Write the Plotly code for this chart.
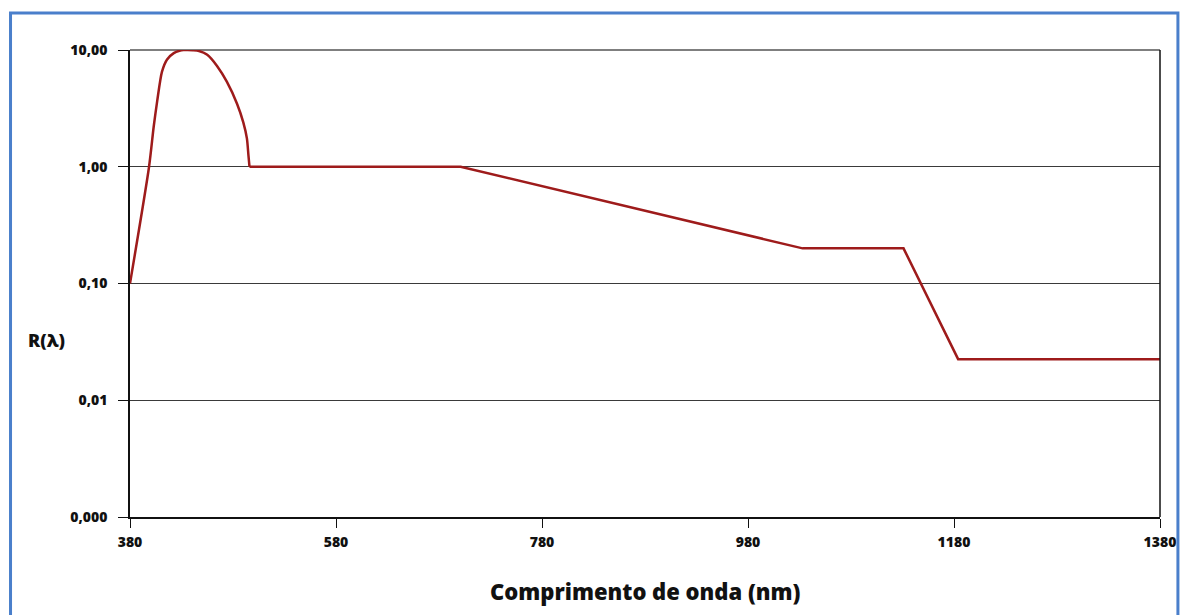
import plotly.graph_objects as go

# Retinal hazard weighting function R(λ), log scale
wavelength_nm = [380, 398.5, 403, 406.5, 411, 416, 422.5, 428, 432, 436,
                 441, 447, 455, 464.5, 474, 484, 490, 493.5, 495, 496,
                 701, 1033, 1131, 1184, 1380]
r_lambda = [0.1, 1.0, 2.2, 3.7, 6.5, 8.3, 9.4, 9.85, 10.0, 10.0,
            9.95, 9.8, 9.1, 7.3, 5.35, 3.45, 2.4, 1.75, 1.25, 1.0,
            1.0, 0.2, 0.2, 0.0225, 0.0225]

x_ticks = [380, 580, 780, 980, 1180, 1380]
y_ticks = [0.001, 0.01, 0.1, 1, 10]
y_tick_text = ["0,000", "0,01", "0,10", "1,00", "10,00"]

FONT = "Open Sans"
BLUE = "#4a7fcb"
RED = "#9e1b1b"
TEXT = "#111111"

# the blue-light peak is drawn smoothed, the straight segments after it linearly
split = wavelength_nm.index(496)

fig = go.Figure()
fig.add_trace(go.Scatter(
    x=wavelength_nm[:split + 1], y=r_lambda[:split + 1], mode="lines",
    line=dict(color=RED, width=2.5, shape="spline", smoothing=0.7),
    showlegend=False,
))
fig.add_trace(go.Scatter(
    x=wavelength_nm[split:], y=r_lambda[split:], mode="lines",
    line=dict(color=RED, width=2.5),
    showlegend=False,
))

tick_font = dict(family=FONT, size=14, color=TEXT, weight=800)

fig.update_layout(
    width=1188, height=615,
    margin=dict(l=130, r=24, t=50, b=98),
    paper_bgcolor="white", plot_bgcolor="white",
    font=dict(family=FONT, color=TEXT),
    xaxis=dict(
        range=[380, 1380], tickvals=x_ticks,
        ticktext=[str(v) for v in x_ticks],
        showgrid=False, zeroline=False,
        showline=True, linecolor=TEXT, linewidth=1.5,
        ticks="outside", ticklen=9, tickwidth=1.2, tickcolor=TEXT,
        tickfont=tick_font, ticklabelstandoff=2,
    ),
    yaxis=dict(
        type="log", range=[-3, 1],
        tickvals=y_ticks, ticktext=y_tick_text,
        showgrid=True, gridcolor="#3a3a3a", gridwidth=1,
        zeroline=False,
        showline=True, linecolor=TEXT, linewidth=1.5,
        ticks="outside", ticklen=10, tickwidth=1.2, tickcolor=TEXT,
        tickfont=tick_font, ticklabelstandoff=8,
    ),
    shapes=[
        # top gridline at 10 and right edge of the plotting box
        dict(type="line", xref="paper", yref="paper", x0=0, x1=1, y0=1, y1=1,
             line=dict(color="#555555", width=1.5), layer="below"),
        dict(type="line", xref="paper", yref="paper", x0=1, x1=1, y0=0, y1=1,
             line=dict(color=TEXT, width=1.5)),
        # outer frame
        dict(type="rect", xref="paper", yref="paper",
             x0=-0.116, x1=1.0174, y0=-0.23, y1=1.0793,
             line=dict(color=BLUE, width=3), fillcolor="rgba(0,0,0,0)",
             layer="above"),
    ],
    annotations=[
        dict(text="Comprimento de onda (nm)", xref="paper", yref="paper",
             x=0.5, y=-0.159, xanchor="center", yanchor="middle",
             showarrow=False,
             font=dict(family=FONT, size=22, color=TEXT, weight=800)),
        dict(text="R(λ)", xref="paper", yref="paper",
             x=-0.081, y=0.379, xanchor="center", yanchor="middle",
             showarrow=False,
             font=dict(family=FONT, size=18, color=TEXT, weight=800)),
    ],
)

fig.write_html("out.html")
